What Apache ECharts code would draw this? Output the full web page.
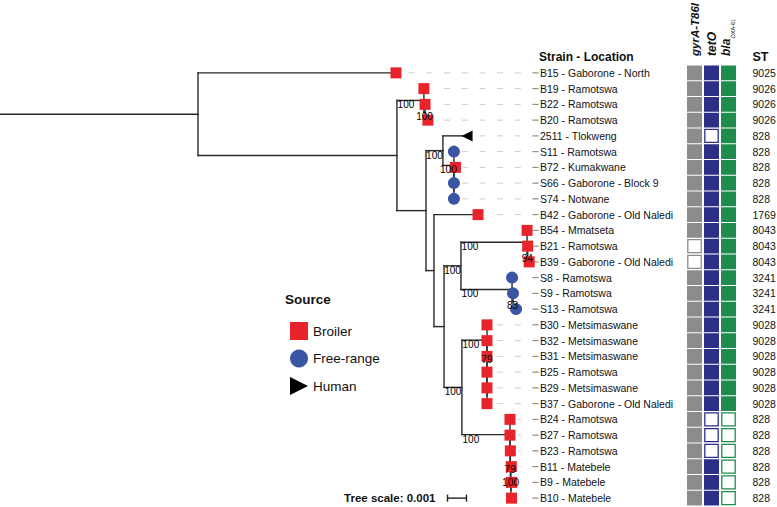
<!DOCTYPE html>
<html><head><meta charset="utf-8">
<script src="https://cdn.jsdelivr.net/npm/echarts@6/dist/echarts.min.js"></script>
<style>html,body{margin:0;padding:0;background:#fff}#c{width:777px;height:507px}</style>
</head><body><div id="c"></div>
<script>
// ---------------- DATA ----------------
const treeNewick = "(B15:0.01042,((B19:0,(B22:0,B20:0.00015)100:0.00006)100:0.00142,((2511:0.00127,(S11:0,(B72:0.00008,(S66:0,S74:0):0):0)100:0.00058)100:0.00089,(B42:0.00232,(((B54:0,(B21:0,B39:0.00008)94:0.00003)100:0.00348,(S8:0,(S9:0,S13:0.00016)83:0.00005)100:0.00269)100:0.00089,((B30:0,(B32:0,(B31:0,(B25:0,(B29:0,B37:0):0):0):0)79:0)100:0.00132,(B24:0,(B27:0,(B23:0,(B11:0.00002,(B9:0.00003,B10:0.00003):0)100:0.00003)79:0.00002):0)100:0.00253)100:0.00094):0.00053):0.00042):0.00153):0.01047);";
const strainIds = ['B15','B19','B22','B20','2511','S11','B72','S66','S74','B42','B54','B21','B39','S8','S9','S13','B30','B32','B31','B25','B29','B37','B24','B27','B23','B11','B9','B10'];
const locations = ['Gaborone - North','Ramotswa','Ramotswa','Ramotswa','Tlokweng','Ramotswa','Kumakwane','Gaborone - Block 9','Notwane','Gaborone - Old Naledi','Mmatseta','Ramotswa','Gaborone - Old Naledi','Ramotswa','Ramotswa','Ramotswa','Metsimaswane','Metsimaswane','Metsimaswane','Ramotswa','Metsimaswane','Gaborone - Old Naledi','Ramotswa','Ramotswa','Ramotswa','Matebele','Matebele','Matebele'];
const sources = ['Broiler','Broiler','Broiler','Broiler','Human','Free-range','Broiler','Free-range','Free-range','Broiler','Broiler','Broiler','Broiler','Free-range','Free-range','Free-range','Broiler','Broiler','Broiler','Broiler','Broiler','Broiler','Broiler','Broiler','Broiler','Broiler','Broiler','Broiler'];
const sourceNames = ['Broiler','Free-range','Human'];
const geneColumns = ['gyrA-T86I','tetO','blaOXA-61'];
const gyrA = [1,1,1,1,1,1,1,1,1,1,1,0,0,1,1,1,1,1,1,1,1,1,1,1,1,1,1,1];
const tetO = [1,1,1,1,0,1,1,1,1,1,1,1,1,1,1,1,1,1,1,1,1,1,0,0,0,1,1,1];
const blaOXA61 = [1,1,1,1,1,1,1,1,1,1,1,1,1,1,1,1,1,1,1,1,1,1,0,0,0,0,0,0];
const stValues = [9025,9026,9026,9026,828,828,828,828,828,1769,8043,8043,8043,3241,3241,3241,9028,9028,9028,9028,9028,9028,828,828,828,828,828,828];
const treeScale = 0.001;

// ---------------- TREE PARSE / LAYOUT ----------------
function parseNewick(s){
  let i=0;
  function node(){
    const n={children:[],name:'',len:0};
    if(s[i]==='('){ i++; n.children.push(node()); while(s[i]===','){i++; n.children.push(node());} i++; }
    let nm=''; while(i<s.length && !',():;'.includes(s[i])) nm+=s[i++];
    n.name=nm;
    if(s[i]===':'){ i++; let num=''; while(i<s.length && !',();'.includes(s[i])) num+=s[i++]; n.len=parseFloat(num); }
    return n;
  }
  return node();
}
const root = parseNewick(treeNewick);
function layout(n, d){
  n.depth = d + n.len;
  if(!n.children.length){ n.row = strainIds.indexOf(n.name); }
  else { n.children.forEach(c=>layout(c, n.depth)); n.row=(n.children[0].row+n.children[n.children.length-1].row)/2; }
}
layout(root, 0);
const X_MIN = -0.010421, X_MAX = 0.030474;
const segments = [[X_MIN, root.row, 0, root.row]];
const supportData = [], supportText = [];
const leafDepth = {};
(function walk(n, parent){
  if(parent && n.depth > parent.depth) segments.push([parent.depth, n.row, n.depth, n.row]);
  if(n.children.length){
    const f=n.children[0], l=n.children[n.children.length-1];
    segments.push([n.depth, f.row, n.depth, l.row]);
    if(parent && n.name){ supportData.push([parent.depth, n.depth, n.row]); supportText.push(n.name); }
    n.children.forEach(c=>walk(c, n));
  } else leafDepth[n.name] = n.depth;
})(root, null);

const srcStyle = {
  'Broiler': {symbol:'rect', size:11, color:'#e8232b', icon:'rect'},
  'Free-range': {symbol:'circle', size:12, color:'#3b55a5', icon:'circle'},
  'Human': {symbol:'path://M10,0L0,5L10,10Z', size:11, color:'#000000', icon:'path://M0,0L10,5L0,10Z'}
};
const geneColors = ['#8c8c8c','#2d2f87','#1e8c4c'];
const geneVals = [gyrA, tetO, blaOXA61];
const heatData = [];
geneVals.forEach((arr,c)=>arr.forEach((v,r)=>heatData.push([c, r, v])));

const FONT = 'Arial, "Liberation Sans", sans-serif';
const chart = echarts.init(document.getElementById('c'), null, {renderer:'svg'});
const yAxisCommon = {type:'value', min:-0.5, max:27.5, inverse:true, show:false};

const series = [];
series.push({
  type:'custom', xAxisIndex:0, yAxisIndex:0, silent:true, z:2,
  data: segments, encode:{x:[0,2], y:[1,3]},
  renderItem:(p,api)=>{
    const a=api.coord([api.value(0),api.value(1)]), b=api.coord([api.value(2),api.value(3)]);
    return {type:'line', shape:{x1:a[0],y1:a[1],x2:b[0],y2:b[1]}, style:{stroke:'#2a2a2a', lineWidth:1.4, lineCap:'square'}};
  }
});
// leader lines + labels + ST
series.push({
  type:'custom', xAxisIndex:0, yAxisIndex:0, silent:true, z:1,
  data: strainIds.map((id,i)=>[leafDepth[id], i]), encode:{x:0, y:1},
  renderItem:(p,api)=>{
    const pt=api.coord([api.value(0),api.value(1)]);
    const i=p.dataIndex, y=pt[1];
    const endX=538.5, startX=pt[0]+8;
    const ch=[];
    if(endX>startX) ch.push({type:'line', shape:{x1:endX,y1:y,x2:startX,y2:y}, style:{stroke:'#cccccc', lineWidth:1, lineDash:[6,11.7]}});
    ch.push({type:'line', shape:{x1:532.5,y1:y,x2:538.5,y2:y}, style:{stroke:'#8a8a8a', lineWidth:1}});
    ch.push({type:'text', style:{x:540, y:y, text:strainIds[i]+' - '+locations[i], font:'10.5px '+FONT, fill:'#111', textAlign:'left', textVerticalAlign:'middle'}});
    ch.push({type:'text', style:{x:752.5, y:y, text:String(stValues[i]), font:'10.5px '+FONT, fill:'#111', textAlign:'left', textVerticalAlign:'middle'}});
    return {type:'group', children:ch};
  }
});
// support values
series.push({
  type:'custom', xAxisIndex:0, yAxisIndex:0, silent:true, z:4,
  data: supportData, encode:{x:[0,1], y:2},
  renderItem:(p,api)=>{
    const a=api.coord([api.value(0),api.value(2)]), b=api.coord([api.value(1),api.value(2)]);
    const cx=Math.min(a[0]+9,(a[0]+b[0])/2);
    return {type:'text', style:{x:cx, y:a[1]-0.5, text:supportText[p.dataIndex], font:'10px '+FONT, fill:'#000', textAlign:'center', textVerticalAlign:'top'}};
  }
});
// leaf markers by source
sourceNames.forEach(s=>{
  const st=srcStyle[s];
  series.push({
    type:'scatter', name:s, xAxisIndex:0, yAxisIndex:0, silent:true, z:3,
    symbol:st.symbol, symbolSize:st.size, itemStyle:{color:st.color, opacity:1},
    data: strainIds.map((id,i)=>sources[i]===s?[leafDepth[id], i]:null).filter(d=>d)
  });
});
// scale bar
series.push({
  type:'custom', xAxisIndex:0, yAxisIndex:0, silent:true,
  data:[[treeScale, strainIds.length-1]], encode:{x:0, y:1},
  renderItem:(p,api)=>{
    const y=api.coord([0,api.value(1)])[1];
    const w=api.size([api.value(0),0])[0];
    const x0=447.5;
    return {type:'group', children:[
      {type:'line', shape:{x1:x0,y1:y,x2:x0+w,y2:y}, style:{stroke:'#222', lineWidth:1.4}},
      {type:'line', shape:{x1:x0,y1:y-3.5,x2:x0,y2:y+3.5}, style:{stroke:'#222', lineWidth:1.4}},
      {type:'line', shape:{x1:x0+w,y1:y-3.5,x2:x0+w,y2:y+3.5}, style:{stroke:'#222', lineWidth:1.4}},
      {type:'text', style:{x:435.5, y:y, text:'Tree scale: '+treeScale, font:'bold 11.5px '+FONT, fill:'#111', textAlign:'right', textVerticalAlign:'middle'}}
    ]};
  }
});
// heatmap
series.push({
  type:'custom', xAxisIndex:1, yAxisIndex:1, silent:true,
  data: heatData, encode:{x:0, y:1},
  renderItem:(p,api)=>{
    const c=api.value(0), v=api.value(2);
    const pt=api.coord([c, api.value(1)]);
    const sz=api.size([1,1]);
    const w=sz[0]-2, h=sz[1]-1;
    const col=geneColors[c];
    if(v) return {type:'rect', shape:{x:pt[0]-w/2, y:pt[1]-h/2, width:w, height:h}, style:{fill:col}};
    return {type:'rect', shape:{x:pt[0]-w/2+0.8, y:pt[1]-h/2+0.8, width:w-1.6, height:h-1.6}, style:{fill:'#ffffff', stroke:col, lineWidth:1.3}};
  }
});

chart.setOption({
  animation:false,
  backgroundColor:'#ffffff',
  grid:[
    {left:0, top:65, width:777, height:441},
    {left:686, top:65, width:51, height:441}
  ],
  xAxis:[
    {type:'value', gridIndex:0, min:X_MIN, max:X_MAX, show:false},
    {type:'category', gridIndex:1, data:geneColumns, show:false}
  ],
  yAxis:[Object.assign({gridIndex:0}, yAxisCommon), Object.assign({gridIndex:1}, yAxisCommon)],
  legend:{
    orient:'vertical', left:285, top:317, itemWidth:18, itemHeight:18, itemGap:9.5, selectedMode:false,
    textStyle:{fontSize:13.5, color:'#111', fontFamily:FONT},
    data: sourceNames.map(s=>({name:s, icon:srcStyle[s].icon}))
  },
  graphic:[
    {type:'text', x:285, y:299, style:{text:'Source', font:'bold 13.5px '+FONT, fill:'#111', textAlign:'left', textVerticalAlign:'middle'}},
    {type:'text', x:539, y:57, style:{text:'Strain - Location', font:'bold 12px '+FONT, fill:'#111', textAlign:'left', textVerticalAlign:'middle'}},
    {type:'text', x:752.5, y:57, style:{text:'ST', font:'bold 12.5px '+FONT, fill:'#111', textAlign:'left', textVerticalAlign:'middle'}},
    {type:'text', x:695, y:56, rotation:Math.PI/2, style:{text:'gyrA-T86I', font:'italic bold 11.5px '+FONT, fill:'#111', textAlign:'left', textVerticalAlign:'middle'}},
    {type:'text', x:712, y:56, rotation:Math.PI/2, style:{text:'tetO', font:'italic bold 12px '+FONT, fill:'#111', textAlign:'left', textVerticalAlign:'middle'}},
    {type:'text', x:726, y:56, rotation:Math.PI/2, style:{text:'bla', font:'italic bold 12px '+FONT, fill:'#111', textAlign:'left', textVerticalAlign:'middle'}},
    {type:'text', x:732.5, y:38.5, rotation:Math.PI/2, style:{text:'OXA-61', font:'5.5px '+FONT, fill:'#111', textAlign:'left', textVerticalAlign:'middle'}}
  ],
  series: series
});
</script></body></html>
